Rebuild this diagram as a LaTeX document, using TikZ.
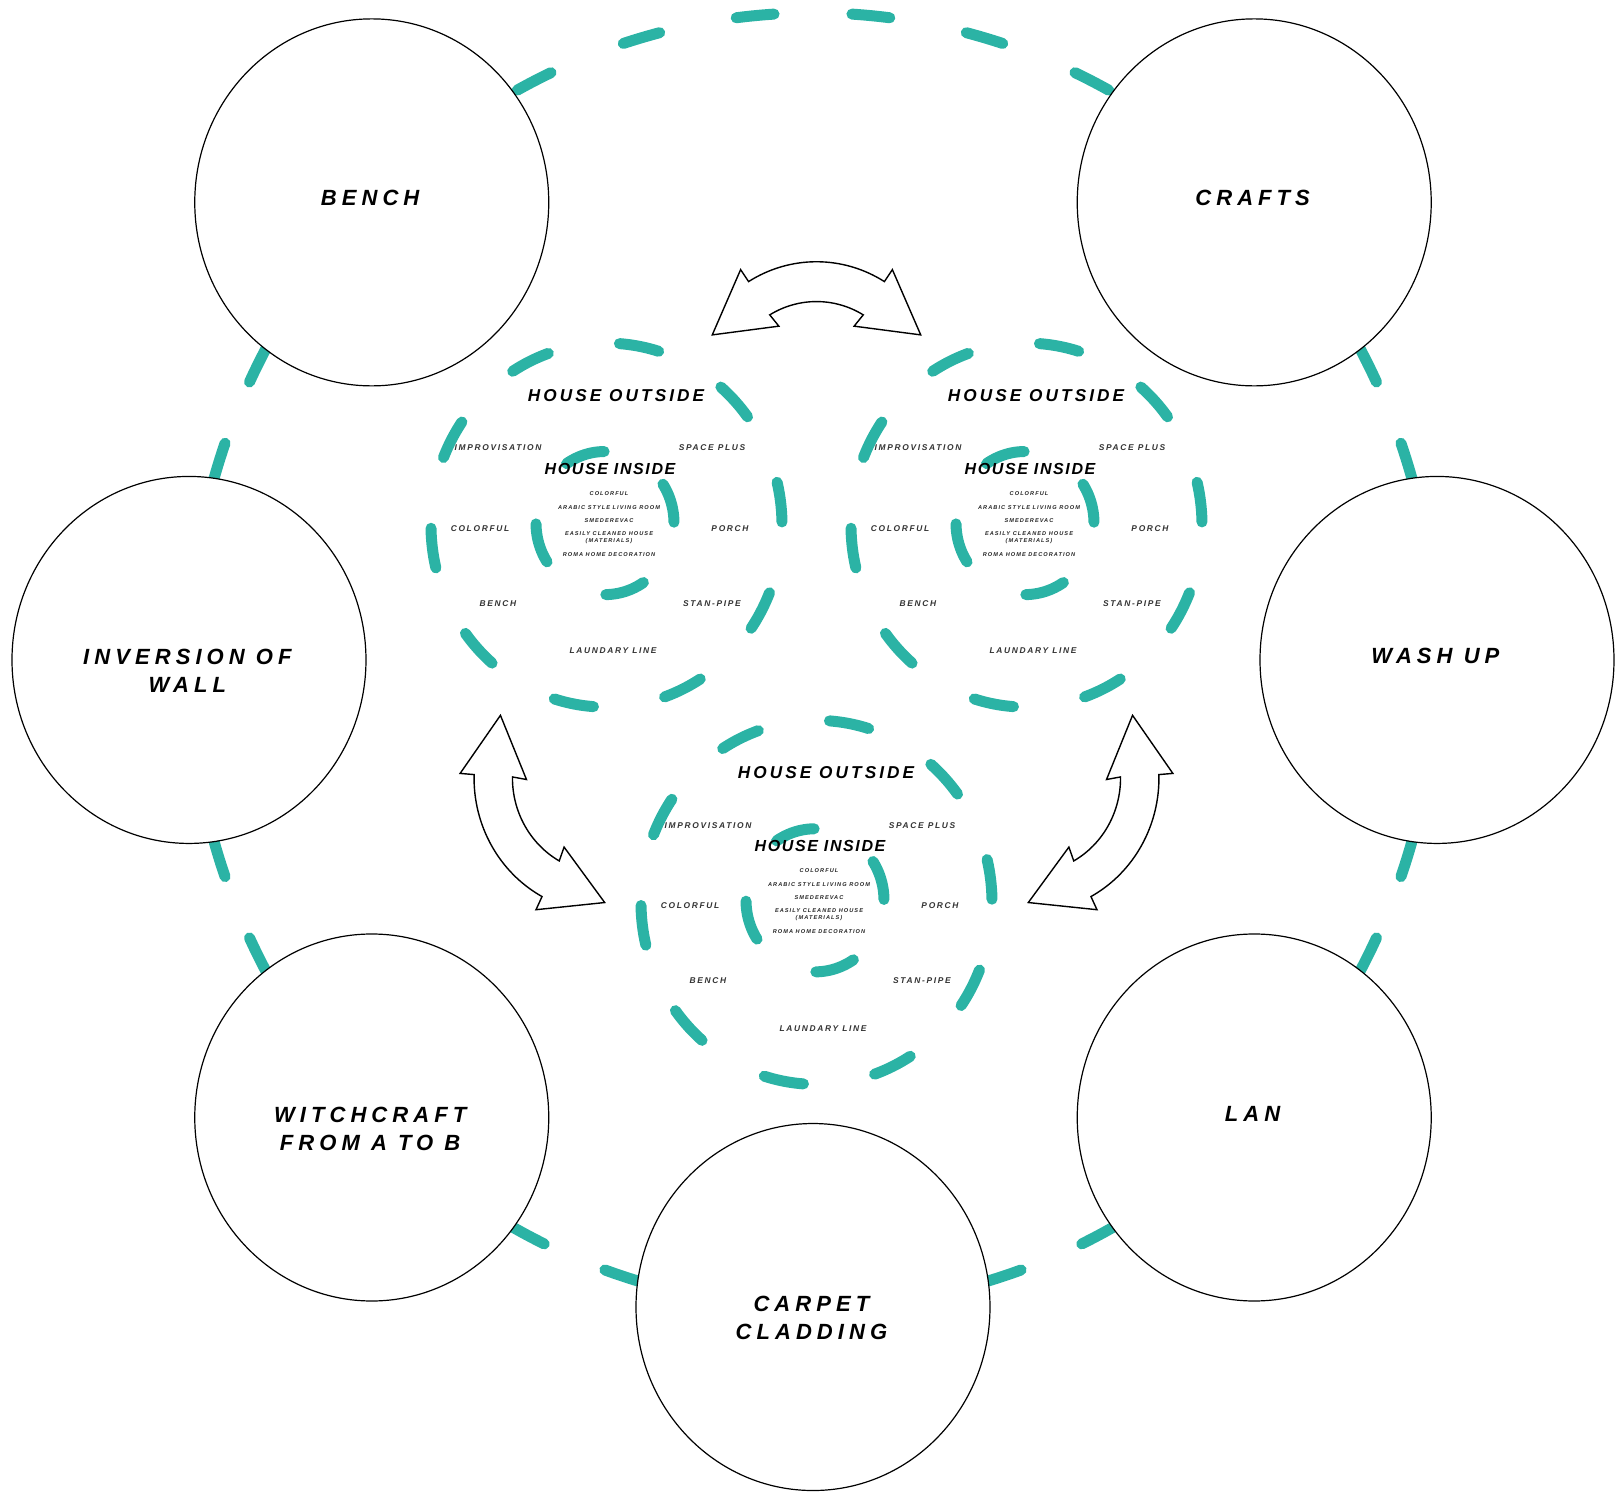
\documentclass[tikz,border=0pt]{standalone}
\usepackage{fontspec}
\setmainfont{Liberation Sans}
\newfontfamily\lblbig[LetterSpace=23]{Liberation Sans}
\newfontfamily\lblout[LetterSpace=18]{Liberation Sans}
\newfontfamily\lblin[LetterSpace=10]{Liberation Sans}
\newfontfamily\lblmid[LetterSpace=20]{Liberation Sans}
\newfontfamily\lbltiny[LetterSpace=19]{Liberation Sans}
\usetikzlibrary{shapes.geometric,backgrounds}
\definecolor{ringteal}{RGB}{43,179,165}

\begin{document}
\begin{tikzpicture}[x=0.5pt, y=0.5185pt,
  bigcirc/.style={ellipse, draw, fill=white, line width=0.6pt, inner sep=0pt,
    minimum width=177pt, minimum height=183.5pt},
  bigtext/.style={font=\lblbig\fontsize{11}{14}\selectfont\bfseries\itshape,
    align=center, xshift=-0.8pt},
  houseout/.style={font=\lblout\fontsize{8.6}{10}\selectfont\bfseries\itshape, inner sep=0pt},
  housein/.style={font=\lblin\fontsize{8}{10}\selectfont\bfseries\itshape, inner sep=0pt},
  midlbl/.style={font=\lblmid\fontsize{4.2}{5}\selectfont\bfseries\itshape, text=black!80, inner sep=0pt},
  tinylbl/.style={font=\lbltiny\fontsize{2.8}{3.75}\selectfont\bfseries\itshape, text=black!85,
    align=center, inner sep=0pt},
  ringbase/.style={ringteal, line width=5.5pt, line cap=round},
  topdash/.style={ringbase, dash pattern=on 19pt off 39pt, dash phase=38.5pt},
  sidedash/.style={ringbase, dash pattern=on 19pt off 33pt, dash phase=35.5pt},
  outring/.style={ringbase, dash pattern=on 20pt off 36.16pt, dash phase=54.56pt},
  inring/.style={ringbase, dash pattern=on 20pt off 35.2pt, dash phase=54.76pt},
  blockarrow/.style={draw, fill=white, line width=0.7pt, line join=miter}]

\useasboundingbox (-813,-805.3) rectangle (808,636.4);

\coordinate (o) at (0,0);
\coordinate (g) at (3.5,8.7);

% seven topics round the ring
\node[bigcirc, label={[bigtext,yshift=2pt]center:BENCH}] (bench) at (135:624) {};
\node[bigcirc, label={[bigtext,yshift=2pt]center:CRAFTS}] (crafts) at (45:624) {};
\node[bigcirc, label={[bigtext,yshift=-5.5pt]center:{INVERSION OF\\WALL}}] (wall) at (180:624) {};
\node[bigcirc, label={[bigtext,yshift=2pt]center:WASH UP}] (washup) at (0:624) {};
\node[bigcirc, label={[bigtext,yshift=-5.5pt]center:{WITCHCRAFT\\FROM A TO B}}] (witch) at (225:624) {};
\node[bigcirc, label={[bigtext,yshift=2pt]center:LAN}] (lan) at (315:624) {};
\node[bigcirc, label={[bigtext,yshift=-5.5pt]center:{CARPET\\CLADDING}}] (carpet) at (270:624) {};

% dashed ring, one piece between each pair of circles
\begin{scope}[on background layer]
\foreach \mu/\h/\seg/\mid in {90/45/topdash/m-bench-crafts,
    157.5/22.5/sidedash/m-bench-wall, 202.5/22.5/sidedash/m-wall-witch,
    247.5/22.5/sidedash/m-witch-carpet, 292.5/22.5/sidedash/m-carpet-lan,
    337.5/22.5/sidedash/m-lan-washup, 22.5/22.5/sidedash/m-washup-crafts} {
  \coordinate (\mid) at (\mu:624);
  \draw[\seg] (\mid) arc[start angle=\mu, end angle=\mu+\h, radius=624];
  \draw[\seg] (\mid) arc[start angle=\mu, end angle=\mu-\h, radius=624];
}
\end{scope}

% the three houses
\foreach \c/\p in {hl/{-206.5,130}, hr/{213.5,130}, hb/{3.5,-233.8}} {
\begin{scope}[shift={(\p)}]
\coordinate (\c) at (0,0);
\draw[outring] (\c) circle[radius=175.5];
\draw[inring] (-1.5,2) circle[radius=69];

\node[houseout] (\c-out) at (9.5,125.4) {HOUSE OUTSIDE};
\node[midlbl] (\c-impro) at (-108.5,74.3) {IMPROVISATION};
\node[midlbl] (\c-space) at (105.5,74.3) {SPACE PLUS};
\node[housein] (\c-in) at (3.5,54) {HOUSE INSIDE};

\node[tinylbl] (\c-col) at (2.5,30.9) {COLORFUL};
\node[tinylbl] (\c-arab) at (2.5,17.4) {ARABIC STYLE LIVING ROOM};
\node[tinylbl] (\c-smed) at (2.5,4.8) {SMEDEREVAC};
\node[tinylbl] (\c-easy) at (2.5,-12) {EASILY CLEANED HOUSE\\(MATERIALS)};
\node[tinylbl] (\c-roma) at (2.5,-28) {ROMA HOME DECORATION};

\node[midlbl] (\c-colorful) at (-126.5,-2.9) {COLORFUL};
\node[midlbl] (\c-porch) at (123.5,-2.9) {PORCH};
\node[midlbl] (\c-bench) at (-108.5,-75.2) {BENCH};
\node[midlbl] (\c-stan) at (105.5,-75.2) {STAN-PIPE};
\node[midlbl] (\c-laund) at (6.5,-121.5) {LAUNDARY LINE};
\end{scope}
}

% curved double arrows between the houses
\foreach \m/\a in {90/atop, 210/aleft, 330/aright} {
\coordinate (\a) at ([shift={(\m:245.3)}]g);
\draw[blockarrow] ([shift={(\m+31.5:130)}]\a)
    arc[start angle=\m+31.5, end angle=\m-31.5, radius=130]
  -- ([shift={(\m-31.8:144)}]\a) -- ([shift={(\m-60.3:120)}]\a)
  -- ([shift={(\m-29:77.6)}]\a) -- ([shift={(\m-30.7:91.6)}]\a)
    arc[start angle=\m-30.7, end angle=\m+30.7, radius=91.6]
  -- ([shift={(\m+29:77.6)}]\a) -- ([shift={(\m+60.3:120)}]\a)
  -- ([shift={(\m+31.8:144)}]\a) -- cycle;
}
\end{tikzpicture}
\end{document}
